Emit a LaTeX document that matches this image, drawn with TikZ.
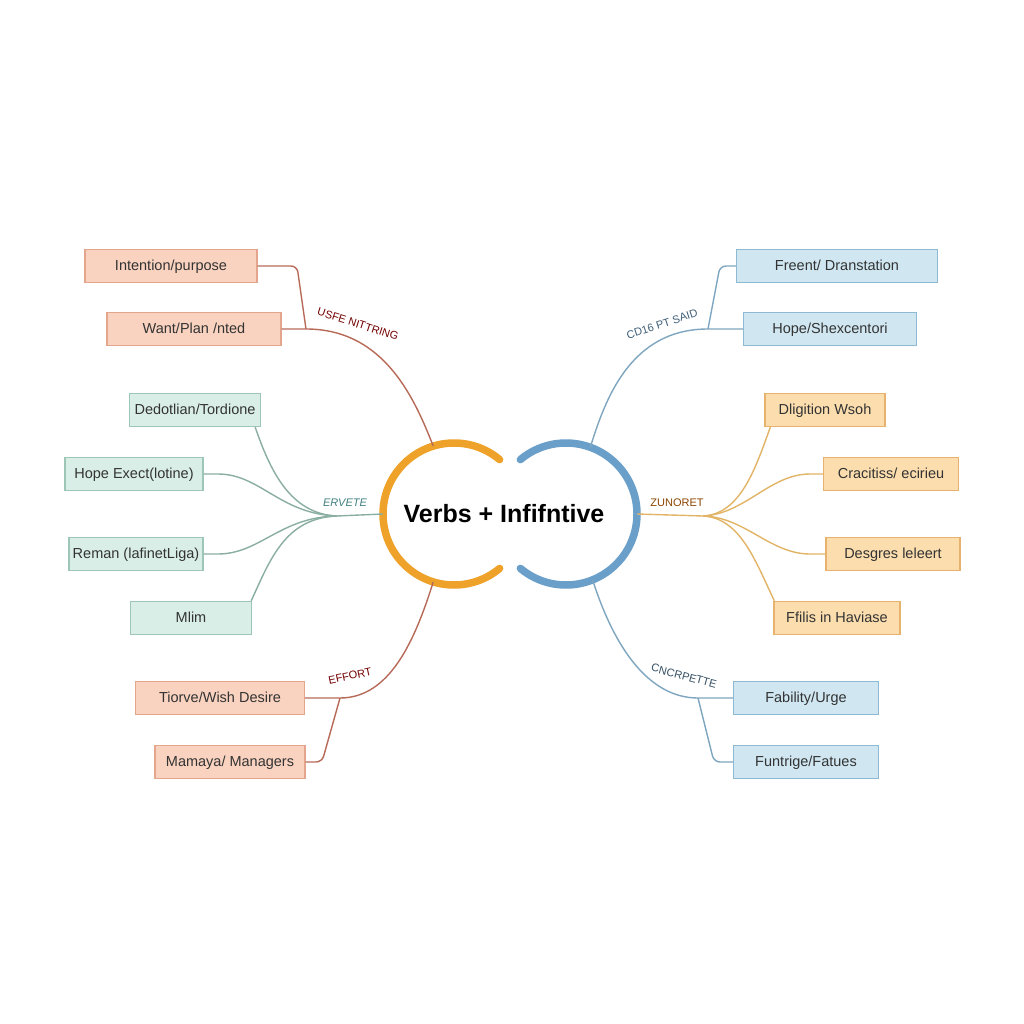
\documentclass[tikz,border=0pt]{standalone}
\usepackage{fontspec}
\setmainfont{Liberation Sans}
\usetikzlibrary{positioning}

\definecolor{salfill}{HTML}{F9D3C0}
\definecolor{salline}{HTML}{E3A58C}
\definecolor{salwire}{HTML}{B76A58}
\definecolor{grnfill}{HTML}{D9EEE6}
\definecolor{grnline}{HTML}{9DC6B6}
\definecolor{grnwire}{HTML}{8AAEA2}
\definecolor{blufill}{HTML}{D0E7F2}
\definecolor{bluline}{HTML}{8DBAD2}
\definecolor{bluwire}{HTML}{7FA6C0}
\definecolor{orgfill}{HTML}{FBDDAE}
\definecolor{orgline}{HTML}{E6B26E}
\definecolor{orgwire}{HTML}{E2B466}
\definecolor{ringorg}{HTML}{EEA22A}
\definecolor{ringblu}{HTML}{6A9FCA}

\begin{document}
\begin{tikzpicture}[x=1pt, y=-1pt,
    box/.style={draw, line width=1.4pt, minimum height=33pt, inner sep=0pt,
      text height=10.5pt, text depth=1pt,
      font=\fontsize{14.5}{17}\selectfont, text=black!80},
    redbox/.style={box, fill=salfill, draw=salline},
    grnbox/.style={box, fill=grnfill, draw=grnline},
    blubox/.style={box, fill=blufill, draw=bluline},
    orgbox/.style={box, fill=orgfill, draw=orgline},
    wire/.style={line width=1.4pt},
    tag/.style={font=\fontsize{11}{13}\selectfont, inner sep=1pt},
    ring/.style={line width=7.5pt, line cap=round},
    hole/.style={circle, draw=none, inner sep=0pt, minimum size=142pt}]
  \fill [white] (0,0) rectangle (1024,1024);
  \useasboundingbox (0,0) rectangle (1024,1024);

  % centre
  \node [hole] (lring) at (454,514) {};
  \node [hole] (rring) at (566,514) {};
  \draw [ring, ringorg] (454,514) ++(50:71pt) arc [start angle=50, end angle=310, radius=71pt];
  \draw [ring, ringblu] (566,514) ++(130:71pt) arc [start angle=130, end angle=-130, radius=71pt];
  \node [font=\fontsize{25}{30}\selectfont\bfseries] (title) at (504,514) {Verbs + Infifntive};

  % boxes
  \node [redbox, minimum width=172pt] (intent) at (171,266) {Intention/purpose};
  \node [redbox, minimum width=174pt] (want) at (194,329) {Want/Plan /nted};
  \node [grnbox, minimum width=131pt] (dedot) at (195,410) {Dedotlian/Tordione};
  \node [grnbox, minimum width=138pt] (hopex) at (134,474) {Hope Exect(lotine)};
  \node [grnbox, minimum width=134pt] (reman) at (136,554) {Reman (lafinetLiga)};
  \node [grnbox, minimum width=121pt] (mlim) at (191,618) {Mlim};
  \node [redbox, minimum width=169pt] (tiorve) at (220,698) {Tiorve/Wish Desire};
  \node [redbox, minimum width=150pt] (mamaya) at (230,762) {Mamaya/ Managers};
  \node [blubox, minimum width=201pt] (freent) at (837,266) {Freent/ Dranstation};
  \node [blubox, minimum width=173pt] (hopesh) at (830,329) {Hope/Shexcentori};
  \node [orgbox, minimum width=120pt] (dlig) at (825,410) {Dligition Wsoh};
  \node [orgbox, minimum width=135pt] (crac) at (891,474) {Cracitiss/ eciriеu};
  \node [orgbox, minimum width=134pt] (desg) at (893,554) {Desgres leleert};
  \node [orgbox, minimum width=126pt] (ffil) at (837,618) {Ffilis in Haviase};
  \node [blubox, minimum width=145pt] (fabil) at (806,698) {Fability/Urge};
  \node [blubox, minimum width=145pt] (funtr) at (806,762) {Funtrige/Fatues};

  % joints
  \coordinate (usej) at (306,329);
  \coordinate (ghub) at (337,516);
  \coordinate (effj) at (340,698);
  \coordinate (saidj) at (708,329);
  \coordinate (ohub) at (703,516);
  \coordinate (cncj) at (698,698);

  % upper left
  \draw [wire, salwire, rounded corners=6pt] (intent.east) -- (297,266) -- (usej);
  \draw [wire, salwire] (want.east) -- (usej) .. controls (385,329) and (415,400) .. (lring.107);
  \node [tag, text=red!45!black, rotate=-18] (usfe) at (358,324) {USFE NITTRING};

  % left
  \draw [wire, grnwire] (lring.180) -- (ghub);
  \draw [wire, grnwire] ([xshift=-6pt]dedot.south east) .. controls (270,470) and (290,514) .. (ghub);
  \draw [wire, grnwire] (hopex.east) -- (218,474) .. controls (260,474) and (280,514) .. (ghub);
  \draw [wire, grnwire] (reman.east) -- (218,554) .. controls (260,554) and (280,517) .. (ghub);
  \draw [wire, grnwire] ([xshift=-1pt]mlim.north east) .. controls (270,560) and (285,518) .. (ghub);
  \node [tag, text=teal!50!gray, font=\fontsize{11}{13}\selectfont\itshape] (ervete) at (345,503) {ERVETE};

  % lower left
  \draw [wire, salwire] (lring.253) .. controls (415,640) and (390,698) .. (effj) -- (tiorve.east);
  \draw [wire, salwire, rounded corners=6pt] (effj) -- (322,762) -- (mamaya.east);
  \node [tag, text=red!45!black, rotate=12] (effort) at (350,676) {EFFORT};

  % upper right
  \draw [wire, bluwire, rounded corners=6pt] (freent.west) -- (720,266) -- (saidj);
  \draw [wire, bluwire] (hopesh.west) -- (saidj) .. controls (630,329) and (605,400) .. (rring.70);
  \node [tag, text=ringblu!60!black, rotate=18] (said) at (662,324) {CD16 PT SAID};

  % right
  \draw [wire, orgwire] (rring.0) -- (ohub);
  \draw [wire, orgwire] ([xshift=6pt]dlig.south west) .. controls (755,470) and (740,514) .. (ohub);
  \draw [wire, orgwire] (crac.west) -- (810,474) .. controls (770,474) and (745,514) .. (ohub);
  \draw [wire, orgwire] (desg.west) -- (810,554) .. controls (770,554) and (745,517) .. (ohub);
  \draw [wire, orgwire] ([xshift=1pt]ffil.north west) .. controls (755,560) and (740,518) .. (ohub);
  \node [tag, text=orange!55!black] (zunoret) at (677,503) {ZUNORET};

  % lower right
  \draw [wire, bluwire] (rring.-68) .. controls (615,650) and (650,698) .. (cncj) -- (fabil.west);
  \draw [wire, bluwire, rounded corners=6pt] (cncj) -- (714,762) -- (funtr.west);
  \node [tag, text=ringblu!50!black, rotate=-15] (cncr) at (684,676) {CNCRPETTE};
\end{tikzpicture}
\end{document}
